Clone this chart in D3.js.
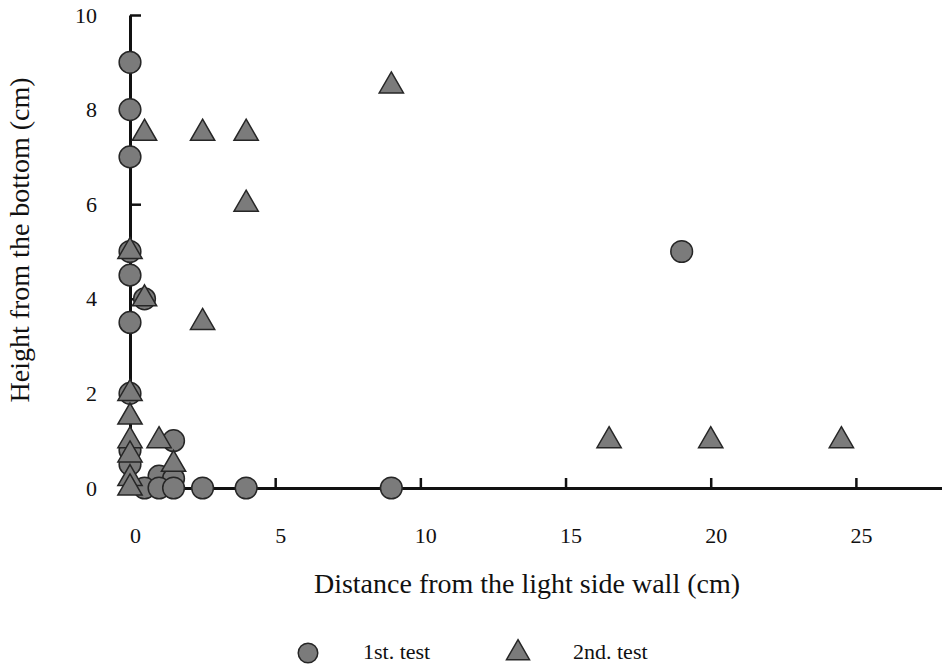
<!DOCTYPE html>
<html>
  <head>
    <meta charset="utf-8">
    <script src="https://cdn.jsdelivr.net/npm/d3@7"></script>
    <style>
      body { margin: 0; background: #fff; }
      text { font-family: "Liberation Serif", "Times New Roman", serif; fill: #111; }
    </style>
  </head>
  <body>
    <div id="my_dataviz"></div>
  </body>

  <script>
    // 1st. test (circles)
    let test1X = [0, 0, 0, 0, 0, 0.5, 0, 0, 0, 0, 1.5, 1, 1.5, 0.5, 1, 1.5, 2.5, 4, 9, 19];
    let test1Y = [9, 8, 7, 5, 4.5, 4, 3.5, 2, 0.8, 0.5, 1, 0.25, 0.2, 0, 0, 0, 0, 0, 0, 5];

    // 2nd. test (triangles)
    let test2X = [0.5, 2.5, 4, 4, 9, 2.5, 0, 0.5, 0, 0, 0, 0, 0, 0, 1, 1.5, 16.5, 20, 24.5];
    let test2Y = [7.5, 7.5, 7.5, 6, 8.5, 3.5, 5, 4, 2, 1.5, 1, 0.7, 0.2, 0, 1, 0.5, 1, 1, 1];

    let xTicks = [0, 5, 10, 15, 20, 25];
    let yTicks = [0, 2, 4, 6, 8, 10];
    let legendNames = ["1st. test", "2nd. test"];

    let W = 942, H = 672;
    let fillCol = "#7b7b7b", strokeCol = "#262626";

    let svg = d3.select("#my_dataviz")
                .append("svg")
                .attr("width", W)
                .attr("height", H);

    let x = d3.scaleLinear().domain([0, 28]).range([130, 943]);
    let y = d3.scaleLinear().domain([0, 10]).range([488, 15]);

    // x axis, ticks pointing up
    let gx = svg.append("g")
       .attr("transform", "translate(0," + y(0) + ")")
       .call(d3.axisBottom(x).tickValues(xTicks).tickSizeInner(-10).tickSizeOuter(0).tickPadding(39));
    gx.select(".domain").attr("stroke", "#111").attr("stroke-width", 3);
    gx.selectAll(".tick line").attr("stroke", "#111").attr("stroke-width", 2.5)
      .filter(function(d) { return d === 0; }).remove();
    gx.selectAll(".tick text").attr("font-size", 22).attr("dx", 5);

    // y axis, ticks pointing right
    let gy = svg.append("g")
       .attr("transform", "translate(" + x(0) + ",0)")
       .call(d3.axisLeft(y).tickValues(yTicks).tickSizeInner(-11).tickSizeOuter(0).tickPadding(33));
    gy.select(".domain").attr("stroke", "#111").attr("stroke-width", 3);
    gy.selectAll(".tick line").attr("stroke", "#111").attr("stroke-width", 2.5)
      .filter(function(d) { return d === 0; }).remove();
    gy.selectAll(".tick text").attr("font-size", 22);

    // axis titles
    svg.append("text")
       .attr("x", 527).attr("y", 593)
       .attr("text-anchor", "middle")
       .attr("font-size", 28)
       .text("Distance from the light side wall (cm)");

    svg.append("text")
       .attr("transform", "translate(29,240) rotate(-90)")
       .attr("text-anchor", "middle")
       .attr("font-size", 28)
       .text("Height from the bottom (cm)");

    let circleSym = d3.symbol().type(d3.symbolCircle).size(370);
    let triSym = d3.symbol().type(d3.symbolTriangle).size(255);

    svg.append("g")
       .selectAll("path")
       .data(d3.range(test1X.length))
       .enter()
       .append("path")
         .attr("d", circleSym)
         .attr("transform", function(i) { return "translate(" + x(test1X[i]) + "," + y(test1Y[i]) + ")"; })
         .attr("fill", fillCol)
         .attr("stroke", strokeCol)
         .attr("stroke-width", 1.5);

    svg.append("g")
       .selectAll("path")
       .data(d3.range(test2X.length))
       .enter()
       .append("path")
         .attr("d", triSym)
         .attr("transform", function(i) { return "translate(" + x(test2X[i]) + "," + y(test2Y[i]) + ")"; })
         .attr("fill", fillCol)
         .attr("stroke", strokeCol)
         .attr("stroke-width", 1.5);

    // legend
    let legend = svg.append("g");
    let legendX = [308, 518];
    legendNames.forEach(function(name, i) {
        legend.append("path")
          .attr("d", i === 0 ? circleSym.size(300)() : triSym.size(230)())
          .attr("transform", "translate(" + legendX[i] + "," + 653 + ")")
          .attr("fill", fillCol)
          .attr("stroke", strokeCol)
          .attr("stroke-width", 1.5);
        legend.append("text")
          .attr("x", legendX[i] + 55).attr("y", 659)
          .attr("font-size", 22)
          .text(name);
    });
  </script>
</html>
